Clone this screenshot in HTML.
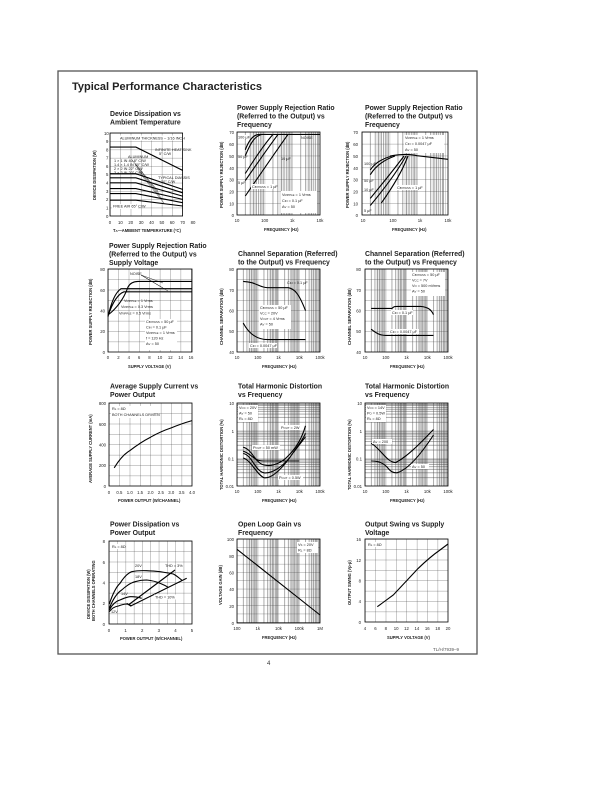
<!DOCTYPE html>
<html><head><meta charset="utf-8"><style>
html,body{margin:0;padding:0;background:#fff;}
svg{display:block;font-family:"Liberation Sans",Arial,sans-serif;}
.t{font-size:6.9px;font-weight:bold;fill:#222;}
.k{font-size:4.3px;fill:#222;}
.a{font-size:4.1px;fill:#222;font-weight:bold;}
.n{font-size:3.8px;fill:#222;}
.c{fill:none;stroke:#000;stroke-width:1.1;}
.b{fill:none;stroke:#000;stroke-width:0.8;}
</style></head><body>
<svg width="612" height="792" viewBox="0 0 612 792" xmlns="http://www.w3.org/2000/svg">
<defs>
<pattern id="g10" patternUnits="userSpaceOnUse" width="10.375" height="10.375"><path d="M0,0V10.375M0,0H10.375" stroke="#333" stroke-width="0.5" fill="none"/></pattern>
<pattern id="g8" patternUnits="userSpaceOnUse" width="10.375" height="8.3"><path d="M0,0V8.3M0,0H10.375" stroke="#333" stroke-width="0.5" fill="none"/></pattern>
<pattern id="g8b" patternUnits="userSpaceOnUse" width="8.3" height="10.375"><path d="M0,0V10.375M0,0H8.3" stroke="#333" stroke-width="0.5" fill="none"/></pattern>
<pattern id="h12" patternUnits="userSpaceOnUse" width="83" height="11.857"><path d="M0,0H83" stroke="#333" stroke-width="0.5"/></pattern>
<pattern id="h10" patternUnits="userSpaceOnUse" width="83" height="10.375"><path d="M0,0H83" stroke="#333" stroke-width="0.5"/></pattern>
<pattern id="h8" patternUnits="userSpaceOnUse" width="83" height="8.3"><path d="M0,0H83" stroke="#333" stroke-width="0.5"/></pattern>
<pattern id="d3" patternUnits="userSpaceOnUse" width="27.667" height="83"><path d="M0,0V83M8.33,0V83M13.2,0V83M16.66,0V83M19.34,0V83M21.53,0V83M23.38,0V83M24.99,0V83M26.4,0V83" stroke="#444" stroke-width="0.45" fill="none"/><rect x="14" y="0" width="6" height="83" fill="#000" opacity="0.08"/></pattern>
<pattern id="d4" patternUnits="userSpaceOnUse" width="20.75" height="83"><path d="M0,0V83M6.25,0V83M9.9,0V83M12.5,0V83M14.5,0V83M16.15,0V83M17.5,0V83M18.74,0V83M19.8,0V83" stroke="#444" stroke-width="0.45" fill="none"/><rect x="11" y="0" width="5" height="83" fill="#000" opacity="0.08"/></pattern>
<pattern id="v3" patternUnits="userSpaceOnUse" width="83" height="27.667"><path d="M0,0H83M0,19.34H83M0,14.47H83M0,11.01H83M0,8.33H83M0,6.14H83M0,4.29H83M0,2.68H83M0,1.27H83" stroke="#444" stroke-width="0.45" fill="none"/></pattern>
</defs>

<rect x="58" y="71" width="419" height="583" fill="none" stroke="#555" stroke-width="1.3"/>
<text x="72" y="90" style="font-size:11px;font-weight:bold;fill:#222">Typical Performance Characteristics</text>
<text x="267" y="665" style="font-size:6px;fill:#333">4</text>
<text x="433" y="651" style="font-size:4.5px;fill:#555">TL/H/7939–9</text>

<!-- Row 1 col 1 -->
<text class="t" x="110" y="116">Device Dissipation vs</text>
<text class="t" x="110" y="124.5">Ambient Temperature</text>
<g transform="translate(110,133)">
<rect width="72.6" height="83" fill="url(#g8)"/><rect width="72.6" height="83" class="b"/>
<path class="c" d="M0,14.1H25.9L72.6,37.4M0,40.7H25.9L72.6,56.4M0,44.8H25.9L72.6,59.8M0,49.8H25.9L72.6,63.1M0,55.6H25.9L72.6,66.4M0,60.6H25.9L72.6,69.7M0,67.2H25.9L72.6,73"/>
<rect x="8" y="2.5" width="60" height="5" fill="#fff"/><text class="n" x="10" y="6.3">ALUMINUM THICKNESS – 1/16 INCH</text>
<text class="n" x="45" y="18">INFINITE HEAT SINK</text><text class="n" x="49" y="22">5° C/W</text>
<text class="n" x="18" y="25">ALUMINUM</text>
<text class="n" x="4" y="29">1 × 1 IN 40.8° C/W</text><text class="n" x="4" y="33">1.4 × 1.4 IN 30° C/W</text><text class="n" x="4" y="37">2 × 2 IN 22° C/W</text><text class="n" x="4" y="41">3 × 3 IN 20° C/W</text>
<text class="n" x="48" y="46">TYPICAL DIASSIS</text><text class="n" x="51" y="50">20° C/W</text>
<rect x="2" y="71" width="26" height="5" fill="#fff"/><text class="n" x="3" y="74.5">FREE AIR 65° C/W</text>
<path d="M22,27L48,58M25,31L50,62M27,35L52,66M29,39L54,70" stroke="#000" stroke-width="0.4"/>
</g>
<g class="k"><text x="104" y="135">10</text><text x="106" y="143">9</text><text x="106" y="151.5">8</text><text x="106" y="159.5">7</text><text x="106" y="168">6</text><text x="106" y="176">5</text><text x="106" y="184.5">4</text><text x="106" y="193">3</text><text x="106" y="201">2</text><text x="106" y="209.5">1</text><text x="106" y="218">0</text></g>
<g class="k" text-anchor="middle"><text x="110" y="224">0</text><text x="120.4" y="224">10</text><text x="130.8" y="224">20</text><text x="141.1" y="224">30</text><text x="151.5" y="224">40</text><text x="161.9" y="224">50</text><text x="172.2" y="224">60</text><text x="182.6" y="224">70</text><text x="193" y="224">80</text></g>
<text class="a" x="113" y="232">T<tspan font-size="3px">A</tspan>—AMBIENT TEMPERATURE (°C)</text>
<text class="a" transform="translate(96,200) rotate(-90)">DEVICE DISSIPATION (W)</text>

<!-- Row 1 col 2 -->
<text class="t" x="237" y="110">Power Supply Rejection Ratio</text>
<text class="t" x="237" y="118.5">(Referred to the Output) vs</text>
<text class="t" x="237" y="127">Frequency</text>
<g transform="translate(237,132)">
<rect width="83" height="83" fill="url(#d3)"/><rect width="83" height="83" fill="url(#h12)"/><rect width="83" height="83" class="b"/>
<path class="c" d="M8.3,17.8C12,8 16,3 21.5,2.4H83M8.3,23.7C14,10 18,4 25,2.4M8.3,41.5Q25,15 36,2.4M8.3,48.6Q28,20 41,2.4M8.3,64Q35,25 51,2.4"/>
<g class="n"><rect x="1" y="3" width="10" height="4" fill="#fff"/><text x="1" y="6.5">100 μF</text><text x="1" y="26">50 μF</text><text x="1" y="52">5 μF</text><text x="44" y="28">10 μF</text><text x="64" y="7">NOISE</text>
<rect x="14" y="52" width="26" height="5" fill="#fff"/><text x="15" y="56">C<tspan font-size="2.8px">BYPASS</tspan> = 1 μF</text>
<rect x="44" y="59" width="36" height="22" fill="#fff"/><text x="45" y="64">V<tspan font-size="2.8px">RIPPLE</tspan> = 1 Vrms</text><text x="45" y="70">C<tspan font-size="2.8px">IN</tspan> = 0.1 μF</text><text x="45" y="76">A<tspan font-size="2.8px">V</tspan> = 50</text></g>
</g>
<g class="k" text-anchor="end"><text x="234" y="134">70</text><text x="234" y="146">60</text><text x="234" y="158">50</text><text x="234" y="170">40</text><text x="234" y="181.5">30</text><text x="234" y="193.5">20</text><text x="234" y="205.5">10</text><text x="234" y="217">0</text></g>
<g class="k" text-anchor="middle"><text x="237" y="222">10</text><text x="264.7" y="222">100</text><text x="292.3" y="222">1k</text><text x="320" y="222">10k</text></g>
<text class="a" x="264" y="231">FREQUENCY (Hz)</text>
<text class="a" transform="translate(223,208) rotate(-90)">POWER SUPPLY REJECTION (dB)</text>

<!-- Row 1 col 3 -->
<text class="t" x="365" y="110">Power Supply Rejection Ratio</text>
<text class="t" x="365" y="118.5">(Referred to the Output) vs</text>
<text class="t" x="365" y="127">Frequency</text>
<g transform="translate(362,132)">
<rect width="86" height="83" fill="url(#d3)"/><rect width="86" height="83" fill="url(#h12)"/><rect width="86" height="83" class="b"/>
<path class="c" d="M28,24Q45,21 55,23.7L86,27.3M8.3,37.9Q15,28 30,24M8.3,42.7Q16,30 33,24M8.3,66.4Q30,40 42,24M8.3,73.5Q32,45 44,24M19.3,71Q38,45 46,24"/>
<g class="n"><rect x="42" y="3" width="40" height="18" fill="#fff"/><text x="43" y="7">V<tspan font-size="2.8px">RIPPLE</tspan> = 1 Vrms</text><text x="43" y="13">C<tspan font-size="2.8px">IN</tspan> = 0.0047 μF</text><text x="43" y="19">A<tspan font-size="2.8px">V</tspan> = 50</text>
<text x="2" y="33">100 μF</text><text x="2" y="50">50 μF</text><text x="2" y="59">10 μF</text><text x="2" y="80">5 μF</text><rect x="34" y="53" width="26" height="5" fill="#fff"/><text x="35" y="57">C<tspan font-size="2.8px">BYPASS</tspan> = 1 μF</text></g>
</g>
<g class="k" text-anchor="end"><text x="358" y="134">70</text><text x="358" y="146">60</text><text x="358" y="158">50</text><text x="358" y="170">40</text><text x="358" y="181.5">30</text><text x="358" y="193.5">20</text><text x="358" y="205.5">10</text><text x="358" y="217">0</text></g>
<g class="k" text-anchor="middle"><text x="363" y="222">10</text><text x="393" y="222">100</text><text x="420" y="222">1k</text><text x="448" y="222">10k</text></g>
<text class="a" x="392" y="231">FREQUENCY (Hz)</text>
<text class="a" transform="translate(349,208) rotate(-90)">POWER SUPPLY REJECTION (dB)</text>

<!-- Row 2 col 1 -->
<text class="t" x="109" y="248">Power Supply Rejection Ratio</text>
<text class="t" x="109" y="256.5">(Referred to the Output) vs</text>
<text class="t" x="109" y="265">Supply Voltage</text>
<g transform="translate(108,269)">
<rect width="84" height="83" fill="url(#g10)"/><rect width="84" height="83" class="b"/>
<path class="c" d="M0,47.7Q5,25 13,19.7H84M0,47Q7,26 16,22.8H84M0,46Q14,35 20,18Q23,12.4 30,12.4H84"/>
<path d="M33,6L55,14M33,6L55,19M33,6L60,22" stroke="#000" stroke-width="0.4"/>
<g class="n"><text x="22" y="6">NOISE</text><text x="16" y="33">V<tspan font-size="2.8px">RIPPLE</tspan> = 1 Vrms</text><text x="13" y="39">V<tspan font-size="2.8px">RIPPLE</tspan> = 0.3 Vrms</text><text x="11" y="45.5">V<tspan font-size="2.8px">RIPPLE</tspan> = 0.5 Vrms</text>
<rect x="37" y="50" width="32" height="31" fill="#fff"/><text x="38" y="54">C<tspan font-size="2.8px">BYPASS</tspan> = 50 μF</text><text x="38" y="59.5">C<tspan font-size="2.8px">IN</tspan> = 0.1 μF</text><text x="38" y="65">V<tspan font-size="2.8px">RIPPLE</tspan> = 1 Vrms</text><text x="38" y="70.5">f = 120 Hz</text><text x="38" y="76">A<tspan font-size="2.8px">V</tspan> = 50</text></g>
</g>
<g class="k" text-anchor="end"><text x="105" y="271">80</text><text x="105" y="292">60</text><text x="105" y="312.5">40</text><text x="105" y="333">20</text><text x="105" y="354">0</text></g>
<g class="k" text-anchor="middle"><text x="108" y="359">0</text><text x="128.8" y="359">4</text><text x="149.5" y="359">8</text><text x="170.3" y="359">12</text><text x="191" y="359">16</text></g>
<g class="k" text-anchor="middle"><text x="118.4" y="359">2</text><text x="139.1" y="359">6</text><text x="159.9" y="359">10</text><text x="180.6" y="359">14</text></g>
<text class="a" x="128" y="368">SUPPLY VOLTAGE (V)</text>
<text class="a" transform="translate(92,345) rotate(-90)">POWER SUPPLY REJECTION (dB)</text>

<!-- Row 2 col 2 -->
<text class="t" x="238" y="256">Channel Separation (Referred)</text>
<text class="t" x="238" y="264.5">to the Output) vs Frequency</text>
<g transform="translate(237,269)">
<rect width="83" height="83" fill="url(#d4)"/><rect width="83" height="83" fill="url(#h10)"/><rect width="83" height="83" class="b"/>
<path class="c" d="M6.2,12.4C20,13 22,18.7 30.7,18.7L51.4,18.7C58,20 62,25 68.5,41.5M6.2,54C12,65 20,70.6 30.7,70.6L68.5,70.6"/>
<g class="n"><text x="50" y="15">C<tspan font-size="2.8px">IN</tspan> = 0.1 μF</text>
<rect x="22" y="36" width="32" height="24" fill="#fff"/><text x="23" y="40">C<tspan font-size="2.8px">BYPASS</tspan> = 50 μF</text><text x="23" y="45.5">V<tspan font-size="2.8px">CC</tspan> = 20V</text><text x="23" y="51">V<tspan font-size="2.8px">OUT</tspan> = 4 Vrms</text><text x="23" y="56.5">A<tspan font-size="2.8px">V</tspan> = 50</text>
<rect x="12" y="74" width="28" height="5" fill="#fff"/><text x="13" y="78">C<tspan font-size="2.8px">IN</tspan> = 0.0047 μF</text></g>
</g>
<g class="k" text-anchor="end"><text x="234" y="271">80</text><text x="234" y="292">70</text><text x="234" y="312.5">60</text><text x="234" y="333">50</text><text x="234" y="354">40</text></g>
<g class="k" text-anchor="middle"><text x="237" y="359">10</text><text x="257.8" y="359">100</text><text x="278.5" y="359">1k</text><text x="299.3" y="359">10k</text><text x="320" y="359">100k</text></g>
<text class="a" x="262" y="368">FREQUENCY (Hz)</text>
<text class="a" transform="translate(223,345) rotate(-90)">CHANNEL SEPARATION (dB)</text>

<!-- Row 2 col 3 -->
<text class="t" x="365" y="256">Channel Separation (Referred)</text>
<text class="t" x="365" y="264.5">to the Output) vs Frequency</text>
<g transform="translate(365,269)">
<rect width="83" height="83" fill="url(#d4)"/><rect width="83" height="83" fill="url(#h10)"/><rect width="83" height="83" class="b"/>
<path class="c" d="M6.2,39.4L27,39.4C29,37.4 30,37.4 32,37.4L56,37.4C62,38 66,40 68.5,45.6M6.2,60.2C12,65 16,66.4 20.75,66.4L68.5,66.4"/>
<g class="n"><rect x="46" y="3" width="34" height="24" fill="#fff"/><text x="47" y="7">C<tspan font-size="2.8px">BYPASS</tspan> = 50 μF</text><text x="47" y="12.5">V<tspan font-size="2.8px">CC</tspan> = 7V</text><text x="47" y="18">V<tspan font-size="2.8px">O</tspan> = 500 mVrms</text><text x="47" y="23.5">A<tspan font-size="2.8px">V</tspan> = 50</text>
<rect x="26" y="41" width="22" height="5" fill="#fff"/><text x="27" y="45">C<tspan font-size="2.8px">IN</tspan> = 0.1 μF</text><rect x="24" y="60" width="30" height="5" fill="#fff"/><text x="25" y="64">C<tspan font-size="2.8px">IN</tspan> = 0.0047 μF</text></g>
</g>
<g class="k" text-anchor="end"><text x="361" y="271">80</text><text x="361" y="292">70</text><text x="361" y="312.5">60</text><text x="361" y="333">50</text><text x="361" y="354">40</text></g>
<g class="k" text-anchor="middle"><text x="365" y="359">10</text><text x="385.8" y="359">100</text><text x="406.5" y="359">1k</text><text x="427.3" y="359">10k</text><text x="448" y="359">100k</text></g>
<text class="a" x="390" y="368">FREQUENCY (Hz)</text>
<text class="a" transform="translate(351,345) rotate(-90)">CHANNEL SEPARATION (dB)</text>

<!-- Row 3 col 1 -->
<text class="t" x="110" y="388.5">Average Supply Current vs</text>
<text class="t" x="110" y="397">Power Output</text>
<g transform="translate(109,403)">
<rect width="83" height="83" fill="url(#g10)"/><rect width="83" height="83" class="b"/>
<path class="c" d="M5.2,64.8C10,57 15,51 20.75,47.7C28,42 35,37.5 41.5,34.2C49,30 56,27 62.25,24.9C69,22 76,19.6 83,17.6"/>
<rect x="2" y="3" width="42" height="12" fill="#fff"/><text class="n" x="3" y="7">R<tspan font-size="2.8px">L</tspan> = 8Ω</text><text class="n" x="3" y="13">BOTH CHANNELS DRIVEN</text>
</g>
<g class="k" text-anchor="end"><text x="106" y="405">800</text><text x="106" y="426">600</text><text x="106" y="446.5">400</text><text x="106" y="467">200</text><text x="106" y="488">0</text></g>
<g class="k" text-anchor="middle"><text x="109" y="494">0</text><text x="119.4" y="494">0.5</text><text x="129.8" y="494">1.0</text><text x="140.1" y="494">1.5</text><text x="150.5" y="494">2.0</text><text x="160.9" y="494">2.5</text><text x="171.3" y="494">3.0</text><text x="181.6" y="494">3.5</text><text x="192" y="494">4.0</text></g>
<text class="a" x="118" y="502">POWER OUTPUT (W/CHANNEL)</text>
<text class="a" transform="translate(92,483) rotate(-90)">AVERAGE SUPPLY CURRENT (mA)</text>

<!-- Row 3 col 2 -->
<text class="t" x="238" y="388.5">Total Harmonic Distortion</text>
<text class="t" x="238" y="397">vs Frequency</text>
<g transform="translate(237,403)">
<rect width="83" height="83" fill="url(#d4)"/><rect width="83" height="83" fill="url(#v3)"/><rect width="83" height="83" class="b"/>
<path class="c" d="M6.2,44.3C15,46 18,60 27,62C35,64 45,60 52,52C60,44 65,35 68.5,22.8M6.2,50.5C15,52 18,68 27,69.8C36,71 48,62 56,50L68.5,33.8M6.2,55C14,57 20,72 27,74.7C36,76 48,62 56,50C60,44 65,38 68.5,30.3M6.2,48.3C14,50 16,58 27,58L62.2,58"/>
<g class="n"><rect x="1" y="2" width="20" height="17" fill="#fff"/><text x="2" y="6">V<tspan font-size="2.8px">CC</tspan> = 20V</text><text x="2" y="11.5">A<tspan font-size="2.8px">V</tspan> = 50</text><text x="2" y="17">R<tspan font-size="2.8px">L</tspan> = 8Ω</text>
<rect x="43" y="22" width="22" height="5" fill="#fff"/><text x="44" y="26">P<tspan font-size="2.8px">OUT</tspan> = 2W</text>
<rect x="15" y="42" width="28" height="5" fill="#fff"/><text x="16" y="46">P<tspan font-size="2.8px">OUT</tspan> = 50 mW</text>
<rect x="41" y="72" width="25" height="5" fill="#fff"/><text x="42" y="76">P<tspan font-size="2.8px">OUT</tspan> = 0.5W</text></g>
</g>
<g class="k" text-anchor="end"><text x="234" y="405">10</text><text x="234" y="433">1</text><text x="234" y="460.5">0.1</text><text x="234" y="488">0.01</text></g>
<g class="k" text-anchor="middle"><text x="237" y="493">10</text><text x="257.8" y="493">100</text><text x="278.5" y="493">1k</text><text x="299.3" y="493">10k</text><text x="320" y="493">100k</text></g>
<text class="a" x="262" y="502">FREQUENCY (Hz)</text>
<text class="a" transform="translate(223,490) rotate(-90)">TOTAL HARMONIC DISTORTION (%)</text>

<!-- Row 3 col 3 -->
<text class="t" x="365" y="388.5">Total Harmonic Distortion</text>
<text class="t" x="365" y="397">vs Frequency</text>
<g transform="translate(365,403)">
<rect width="83" height="83" fill="url(#d4)"/><rect width="83" height="83" fill="url(#v3)"/><rect width="83" height="83" class="b"/>
<path class="c" d="M6.2,40.3C15,45 22,59.6 30.7,59.6C45,52 60,35 68.5,26.5M6.2,58C14,58 18,60 22,64C26,69 28,69.8 32,69.8C45,66 60,45 68.5,32"/>
<g class="n"><rect x="1" y="2" width="20" height="17" fill="#fff"/><text x="2" y="6">V<tspan font-size="2.8px">CC</tspan> = 14V</text><text x="2" y="11.5">P<tspan font-size="2.8px">O</tspan> = 0.5W</text><text x="2" y="17">R<tspan font-size="2.8px">L</tspan> = 8Ω</text>
<rect x="7" y="36" width="20" height="5" fill="#fff"/><text x="8" y="40">A<tspan font-size="2.8px">V</tspan> = 200</text>
<rect x="46" y="61" width="18" height="5" fill="#fff"/><text x="47" y="65">A<tspan font-size="2.8px">V</tspan> = 50</text></g>
</g>
<g class="k" text-anchor="end"><text x="362" y="405">10</text><text x="362" y="433">1</text><text x="362" y="460.5">0.1</text><text x="362" y="488">0.01</text></g>
<g class="k" text-anchor="middle"><text x="365" y="493">10</text><text x="385.8" y="493">100</text><text x="406.5" y="493">1k</text><text x="427.3" y="493">10k</text><text x="448" y="493">100k</text></g>
<text class="a" x="390" y="502">FREQUENCY (Hz)</text>
<text class="a" transform="translate(351,490) rotate(-90)">TOTAL HARMONIC DISTORTION (%)</text>

<!-- Row 4 col 1 -->
<text class="t" x="110" y="526.5">Power Dissipation vs</text>
<text class="t" x="110" y="535">Power Output</text>
<g transform="translate(109,541)">
<rect width="83" height="83" fill="url(#g8b)"/><rect width="83" height="83" class="b"/>
<path class="c" d="M0.3,63C4,52 7,46 11,42.3C15,36 19,32 22.7,30.7C28,29.5 33,29.5 37.7,29.7C43,30 47,30 51,30.7C56,31.5 60,32 64.3,33C68,35 70,37 72.7,39M0.3,67.3C4,58 8,52 12.7,49C17,45 21,42 26,40.7C30,39.5 34,39 37.7,39C43,39.5 47,40.5 51,42.3C55,44 57,45 59.3,46.3M0.3,69C3,64 7,60 11,59C15,57 18,56 21,55.7C25,55.5 29,56 32.7,57.3M0.3,70.7C3,67 6,65.5 9.3,65C12,64 15,63 17.7,63C20,63.5 21,64 22.7,65M19.3,64L66,29M17.7,62.3L21.7,65L77.7,37.3"/>
<g class="n"><rect x="2" y="3" width="14" height="5" fill="#fff"/><text x="3" y="7">R<tspan font-size="2.8px">L</tspan> = 8Ω</text><text x="26" y="26">20V</text><text x="26" y="37">18V</text><text x="12" y="54">14V</text><text x="2" y="72">12V</text><text x="56" y="26">THD = 3%</text><rect x="45" y="53.5" width="22" height="5" fill="#fff"/><text x="46" y="57.5">THD = 10%</text></g>
</g>
<g class="k" text-anchor="end"><text x="105" y="543">8</text><text x="105" y="564">6</text><text x="105" y="584.5">4</text><text x="105" y="605">2</text><text x="105" y="626">0</text></g>
<g class="k" text-anchor="middle"><text x="109" y="632">0</text><text x="125.6" y="632">1</text><text x="142.2" y="632">2</text><text x="158.8" y="632">3</text><text x="175.4" y="632">4</text><text x="192" y="632">5</text></g>
<text class="a" x="120" y="640">POWER OUTPUT (W/CHANNEL)</text>
<text class="a" transform="translate(90,619) rotate(-90)">DEVICE DISSIPATION (W)</text>
<text class="a" transform="translate(95,621) rotate(-90)">BOTH CHANNELS OPERATING</text>

<!-- Row 4 col 2 -->
<text class="t" x="238" y="526.5">Open Loop Gain vs</text>
<text class="t" x="238" y="535">Frequency</text>
<g transform="translate(237,539)">
<rect width="83" height="84" fill="url(#d4)"/><rect width="83" height="84" fill="url(#h8)"/><rect width="83" height="84" class="b"/>
<path class="c" d="M0,10.3L83,76"/>
<g class="n"><rect x="60" y="3" width="21" height="11" fill="#fff"/><text x="61" y="7">V<tspan font-size="2.8px">S</tspan> = 20V</text><text x="61" y="12.5">R<tspan font-size="2.8px">L</tspan> = 8Ω</text></g>
</g>
<g class="k" text-anchor="end"><text x="234" y="541">100</text><text x="234" y="558">80</text><text x="234" y="574.5">60</text><text x="234" y="591">40</text><text x="234" y="608">20</text><text x="234" y="625">0</text></g>
<g class="k" text-anchor="middle"><text x="237" y="630">100</text><text x="257.8" y="630">1k</text><text x="278.5" y="630">10k</text><text x="299.3" y="630">100k</text><text x="320" y="630">1M</text></g>
<text class="a" x="262" y="639">FREQUENCY (Hz)</text>
<text class="a" transform="translate(222,605) rotate(-90)">VOLTAGE GAIN (dB)</text>

<!-- Row 4 col 3 -->
<text class="t" x="365" y="526.5">Output Swing vs Supply</text>
<text class="t" x="365" y="535">Voltage</text>
<g transform="translate(365,539)">
<rect width="83" height="83" fill="url(#g10)"/><rect width="83" height="83" class="b"/>
<path class="c" d="M12.3,67.7L28.3,56L53.3,29.3Q65,18 75,11L83,5"/>
<rect x="2" y="3" width="14" height="5" fill="#fff"/><text class="n" x="3" y="7">R<tspan font-size="2.8px">L</tspan> = 8Ω</text>
</g>
<g class="k" text-anchor="end"><text x="361" y="541">16</text><text x="361" y="562">12</text><text x="361" y="582.5">8</text><text x="361" y="603">4</text><text x="361" y="624">0</text></g>
<g class="k" text-anchor="middle"><text x="365" y="630">4</text><text x="375.4" y="630">6</text><text x="385.8" y="630">8</text><text x="396.1" y="630">10</text><text x="406.5" y="630">12</text><text x="416.9" y="630">14</text><text x="427.3" y="630">16</text><text x="437.6" y="630">18</text><text x="448" y="630">20</text></g>
<text class="a" x="387" y="639">SUPPLY VOLTAGE (V)</text>
<text class="a" transform="translate(351,605) rotate(-90)">OUTPUT SWING (Vp-p)</text>
</svg>
</body></html>
